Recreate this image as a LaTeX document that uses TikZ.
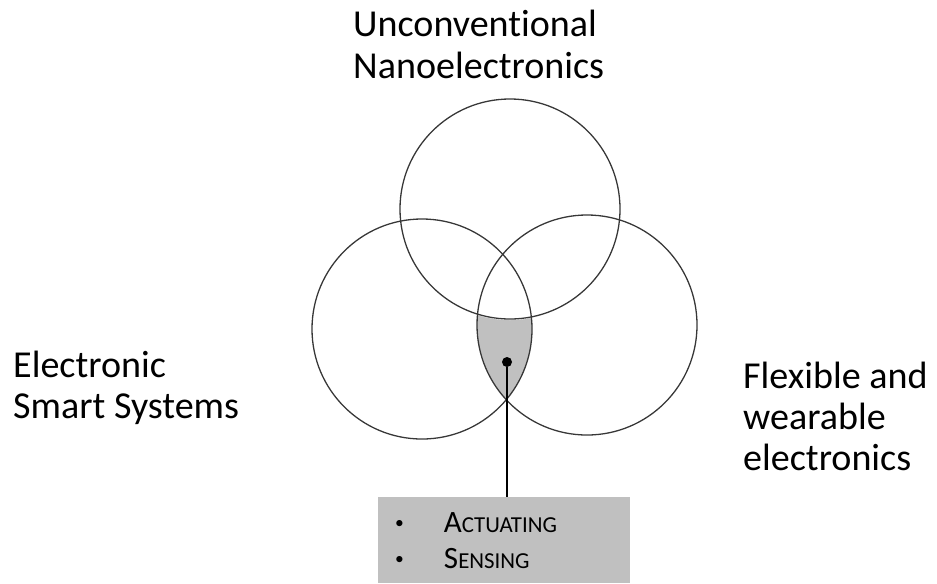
\documentclass[tikz,border=0pt]{standalone}
\usepackage{fontspec}
\setmainfont{Carlito}[Ligatures=NoCommon]
\usepackage{tikz}

\definecolor{venngray}{RGB}{55,55,55}
\definecolor{lensgray}{RGB}{192,192,192}
\newcommand\fakesc[1]{{\fontsize{19.5}{31}\selectfont #1}}
\newcommand\smallbullet{\raisebox{0.12em}{\fontsize{15}{15}\selectfont\textbullet}}

\tikzset{
  venn/.style={circle,draw=venngray,line width=1.1pt,minimum size=6.6cm,inner sep=0pt},
  biglabel/.style={anchor=base west,align=left,inner sep=0pt,font=\fontsize{32.5}{35}\selectfont},
}

\begin{document}
\begin{tikzpicture}[x=0.03cm,y=-0.03cm]
\useasboundingbox (0,0) rectangle (937,583);

% shaded part of the lens
\begin{scope}
\clip (422,329) circle (3.3cm);
\clip (587,325) circle (3.3cm);
\fill[lensgray] (300,200) rectangle (700,450);
\fill[white] (510,209) circle (3.33cm);
\end{scope}

\node[venn] (nano) at (510,209) {};
\node[venn] (smart) at (422,329) {};
\node[venn] (flex) at (587,325) {};

% base anchor sits on the last line
\node[biglabel] (nanolabel) at (353,78) {Unconventional\\Nanoelectronics};
\node[biglabel] (smartlabel) at (13,418) {Electronic\\Smart Systems};
\node[biglabel] (flexlabel) at (743,470) {Flexible and\\wearable\\electronics};

\node[circle,fill=black,inner sep=0pt,minimum size=0.3cm] (dot) at (507,362) {};

\node[fill=lensgray,inner sep=0pt,minimum width=7.56cm,minimum height=2.58cm] (act) at (504,540) {};
\node[anchor=base west,inner sep=0pt,font=\fontsize{26.5}{31}\selectfont] (items) at (395,532)
  {\begin{tabular}[t]{@{}l@{\hspace{1.2cm}}l@{}}
   \smallbullet & A\fakesc{CTUATING}\\
   \smallbullet & S\fakesc{ENSING}
   \end{tabular}};

\draw[line width=1pt] (dot) -- (dot |- act.north);
\end{tikzpicture}
\end{document}
